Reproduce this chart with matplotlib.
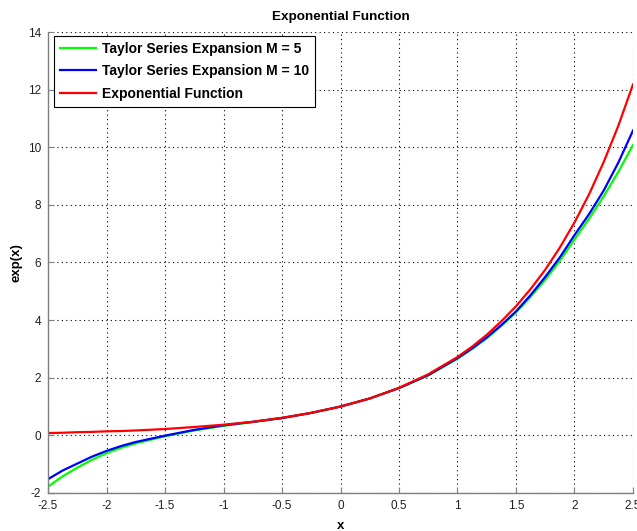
import numpy as np
import matplotlib.pyplot as plt

# values
x = [-2.5, -2.375, -2.25, -2.125, -2.0, -1.875, -1.75, -1.5, -1.25, -1.0,
     -0.75, -0.5, -0.25, 0.0, 0.25, 0.5, 0.75, 1.0, 1.125, 1.25, 1.375,
     1.5, 1.625, 1.75, 1.875, 2.0, 2.125, 2.25, 2.375, 2.5]
taylor_m5 = [-1.78, -1.42, -1.12, -0.85, -0.62, -0.43, -0.28, -0.03, 0.17, 0.33,
             0.46, 0.60, 0.78, 1.0, 1.28, 1.64, 2.08, 2.66, 3.00, 3.37, 3.80,
             4.27, 4.81, 5.40, 6.06, 6.80, 7.52, 8.30, 9.15, 10.08]
taylor_m10 = [-1.52, -1.22, -0.98, -0.74, -0.54, -0.37, -0.23, -0.01, 0.19, 0.35,
              0.47, 0.60, 0.78, 1.0, 1.28, 1.64, 2.09, 2.68, 3.02, 3.40, 3.83,
              4.30, 4.87, 5.50, 6.18, 6.95, 7.68, 8.50, 9.47, 10.58]
exp_vals = [0.08, 0.09, 0.11, 0.12, 0.14, 0.15, 0.17, 0.22, 0.29, 0.37,
            0.47, 0.61, 0.78, 1.0, 1.28, 1.65, 2.12, 2.72, 3.08, 3.49, 3.96,
            4.48, 5.08, 5.75, 6.52, 7.39, 8.37, 9.49, 10.75, 12.18]

xticks = [-2.5, -2, -1.5, -1, -0.5, 0, 0.5, 1, 1.5, 2, 2.5]
xticklabels = ["-2.5", "-2", "-1.5", "-1", "-0.5", "0", "0.5", "1", "1.5", "2", "2.5"]
yticks = [-2, 0, 2, 4, 6, 8, 10, 12, 14]
yticklabels = ["-2", "0", "2", "4", "6", "8", "10", "12", "14"]

plt.rcParams['font.family'] = ['Liberation Sans', 'DejaVu Sans']
plt.rcParams['axes.unicode_minus'] = False

fig = plt.figure(figsize=(6.37, 5.31), dpi=100)
ax = fig.add_axes([0.0754, 0.0716, 0.9183, 0.8681])

ax.plot(x, taylor_m5, color="#00ff00", lw=1.6, label="Taylor Series Expansion M = 5")
ax.plot(x, taylor_m10, color="#0000ff", lw=1.6, label="Taylor Series Expansion M = 10")
ax.plot(x, exp_vals, color="#ff0000", lw=1.6, label="Exponential Function")

ax.set_xlim(-2.5, 2.5)
ax.set_ylim(-2, 14)
ax.set_xticks(xticks)
ax.set_xticklabels(xticklabels)
ax.set_yticks(yticks)
ax.set_yticklabels(yticklabels)
ax.grid(True, color="black", linestyle=(0, (1, 3)), linewidth=0.8)

for side in ["top", "right"]:
    ax.spines[side].set_visible(False)
for side in ["left", "bottom"]:
    ax.spines[side].set_color("#7f7f7f")
    ax.spines[side].set_linewidth(1.0)
ax.tick_params(direction="in", length=4, color="#7f7f7f", labelsize=8.5,
               labelcolor="#202020", pad=5)

ax.set_title("Exponential Function", fontsize=9.7, fontweight="bold", pad=9)
ax.set_xlabel("x", fontsize=9.5, fontweight="bold", labelpad=6)
ax.set_ylabel("exp(x)", fontsize=9.5, fontweight="bold")
ax.yaxis.set_label_coords(-0.043, 0.5)

leg = ax.legend(loc="upper left", prop={"weight": "bold", "size": 10},
                fancybox=False, edgecolor="black", framealpha=1,
                handlelength=2.6, handletextpad=0.4, borderpad=0.45,
                labelspacing=0.6, borderaxespad=0,
                bbox_to_anchor=(0.0095, 0.992))
leg.get_frame().set_linewidth(0.8)

fig.savefig("out.png", dpi=100)
